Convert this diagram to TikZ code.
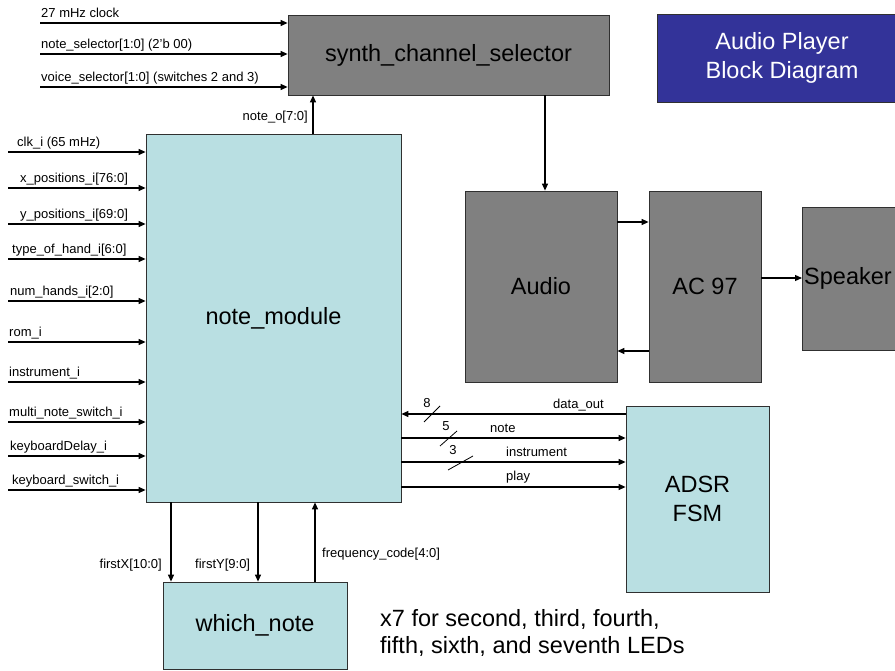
\documentclass[tikz,border=0pt]{standalone}
\usepackage{fontspec}
\setmainfont{Liberation Sans}
\usetikzlibrary{arrows.meta}
\definecolor{boxgray}{HTML}{808080}
\definecolor{boxcyan}{HTML}{B9DFE2}
\definecolor{titleblue}{HTML}{333399}
\definecolor{edge}{HTML}{303030}

\begin{document}
\begin{tikzpicture}[x=1pt,y=-1pt,
  arr/.style={-{Triangle[length=7pt,width=6pt]}, line width=1.2pt, black},
  blk/.style={draw=edge, line width=0.8pt, inner sep=0pt,
    font=\fontsize{23.5}{28.5}\selectfont, align=center},
  graybox/.style={blk, fill=boxgray},
  cyanbox/.style={blk, fill=boxcyan},
  lbl/.style={font=\fontsize{13}{15}\selectfont, inner sep=0pt},
  bigtxt/.style={font=\fontsize{23.5}{27}\selectfont, inner sep=0pt, align=left}]

\clip (0,0) rectangle (895,671);
\fill[white] (0,0) rectangle (895,671);

% ---------- blocks ----------
\node[graybox, minimum width=321pt, minimum height=80pt] (synth) at (448.5,55) {synth\_channel\_selector};
\node[blk, fill=titleblue, text=white, minimum width=250pt, minimum height=88pt] (title) at (782,58) {Audio Player\\Block Diagram};
\node[cyanbox, minimum width=255pt, minimum height=368pt] (note) at (273.5,318) {note\_module};
\node[cyanbox, minimum width=184pt, minimum height=87pt] (which) at (255,625.5) {which\_note};
\node[graybox, minimum width=152pt, minimum height=191pt] (audio) at (541,286.5) {Audio};
\node[graybox, minimum width=112pt, minimum height=191pt] (ac) at (705,286.5) {AC 97};
\node[graybox, minimum width=160pt, minimum height=143pt, anchor=west] (spk) at (802,278.5) {};
\node[bigtxt, anchor=west] (spktxt) at ([xshift=2pt]spk.west) {Speaker};
\node[cyanbox, minimum width=143pt, minimum height=186pt] (adsr) at (697.5,499) {ADSR\\FSM};

% ---------- inputs of synth_channel_selector ----------
\coordinate (s1) at (40,23);
\coordinate (s2) at (40,54);
\coordinate (s3) at (40,87);
\draw[arr] (s1) -- (s1 -| synth.west);
\draw[arr] (s2) -- (s2 -| synth.west);
\draw[arr] (s3) -- (s3 -| synth.west);
\node[lbl, anchor=base west] (ls1) at (41,17.5) {27 mHz clock};
\node[lbl, anchor=base west] (ls2) at (41,48.5) {note\_selector[1:0] (2'b 00)};
\node[lbl, anchor=base west] (ls3) at (41,81.5) {voice\_selector[1:0] (switches 2 and 3)};

% ---------- inputs of note_module ----------
\foreach \y/\x/\t [count=\i] in {
    152/17/{clk\_i (65 mHz)},
    188/20/{x\_positions\_i[76:0]},
    224/20/{y\_positions\_i[69:0]},
    259/12/{type\_of\_hand\_i[6:0]},
    301/10/{num\_hands\_i[2:0]},
    342/9/{rom\_i},
    382/9/{instrument\_i},
    422/9/{multi\_note\_switch\_i},
    456/10/{keyboardDelay\_i},
    490/12/{keyboard\_switch\_i}} {
  \coordinate (n\i) at (8,\y);
  \draw[arr] (n\i) -- (n\i -| note.west);
  \node[lbl, anchor=base west] (ln\i) at (\x,\y-5.5) {\t};
}

% ---------- note_module -> synth_channel_selector ----------
\coordinate (no) at (313,0);
\draw[arr] (no |- note.north) -- (no |- synth.south);
\node[lbl, anchor=base east] (lno) at (308,121) {note\_o[7:0]};

% ---------- audio path ----------
\coordinate (sa) at (545,0);
\draw[arr] (sa |- synth.south) -- (sa |- audio.north);
\coordinate (a1) at (0,222);
\coordinate (a2) at (0,351);
\coordinate (a3) at (0,278);
\draw[arr] (a1 -| audio.east) -- (a1 -| ac.west);
\draw[arr] (a2 -| ac.west) -- (a2 -| audio.east);
\draw[arr] (a3 -| ac.east) -- (a3 -| spk.west);

% ---------- note_module <-> ADSR FSM ----------
\coordinate (b1) at (0,414);
\coordinate (b2) at (0,438);
\coordinate (b3) at (0,462);
\coordinate (b4) at (0,487);
\draw[arr] (b1 -| adsr.west) -- (b1 -| note.east);
\draw[arr] (b2 -| note.east) -- (b2 -| adsr.west);
\draw[arr] (b3 -| note.east) -- (b3 -| adsr.west);
\draw[arr] (b4 -| note.east) -- (b4 -| adsr.west);
\node[lbl, anchor=base west] (lb1) at (553,408) {data\_out};
\node[lbl, anchor=base west] (lb2) at (490,432) {note};
\node[lbl, anchor=base west] (lb3) at (506,456) {instrument};
\node[lbl, anchor=base west] (lb4) at (506,480) {play};
% bus width marks
\draw[line width=0.8pt] (424,422) -- (440,406);
\draw[line width=0.8pt] (440,446) -- (457,431);
\draw[line width=0.8pt] (448,470) -- (473,456);
\node[lbl] (w8) at (427,403) {8};
\node[lbl] (w5) at (446,426) {5};
\node[lbl] (w3) at (453,450) {3};

% ---------- note_module <-> which_note ----------
\coordinate (fx) at (171,0);
\coordinate (fy) at (258,0);
\coordinate (fc) at (315,0);
\draw[arr] (fx |- note.south) -- (fx |- which.north);
\draw[arr] (fy |- note.south) -- (fy |- which.north);
\draw[arr] (fc |- which.north) -- (fc |- note.south);
\node[lbl, anchor=base east] (lfx) at (162,568) {firstX[10:0]};
\node[lbl, anchor=base west] (lfy) at (195,568) {firstY[9:0]};
\node[lbl, anchor=base west] (lfc) at (322,557) {frequency\_code[4:0]};

% ---------- note ----------
\node[bigtxt, anchor=base west] (x7) at (380,653) {x7 for second, third, fourth,\\fifth, sixth, and seventh LEDs};

\end{tikzpicture}
\end{document}
